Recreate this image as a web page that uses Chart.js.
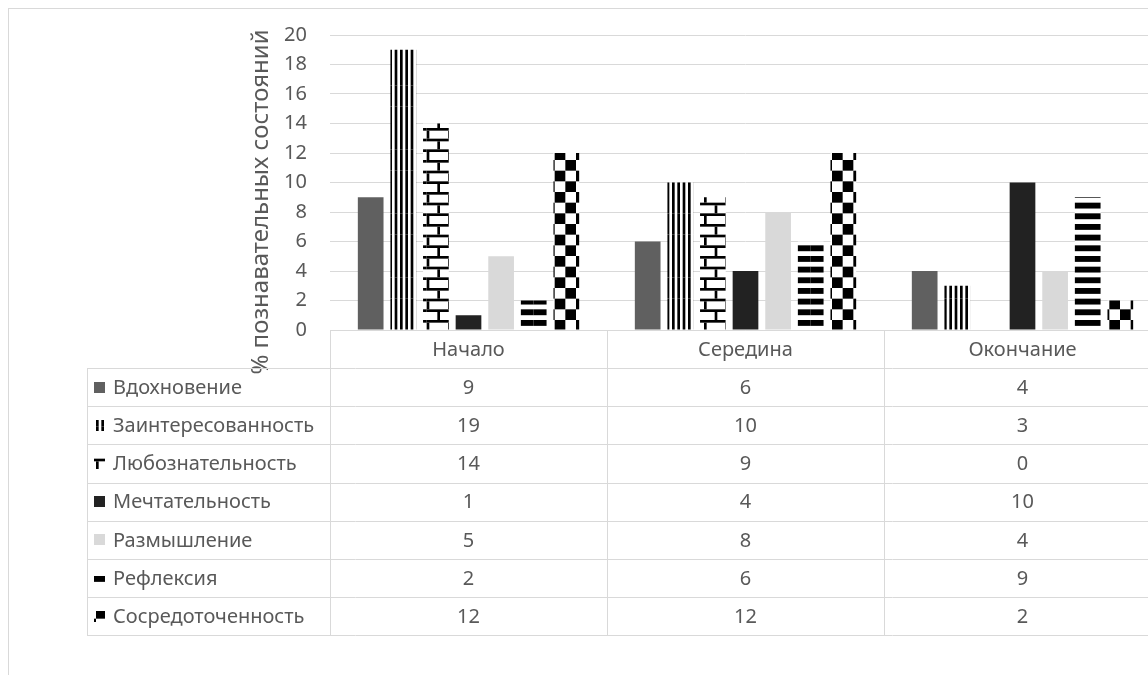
<!DOCTYPE html>
<html>
<head>
<meta charset="utf-8">
<title>Познавательные состояния</title>
<script src="https://cdn.jsdelivr.net/npm/chart.js@4.4.1/dist/chart.umd.min.js"></script>
<style>
	html, body { margin: 0; padding: 0; background: #fff; overflow: hidden; }
	#chart { position: absolute; left: 0; top: 0; }
</style>
</head>
<body>
<canvas id="chart" width="1200" height="700"></canvas>
<script>
var categories = ["Начало", "Середина", "Окончание"];

var inspiration = [9, 6, 4];
var interest = [19, 10, 3];
var curiosity = [14, 9, 0];
var dreaminess = [1, 4, 10];
var pondering = [5, 8, 4];
var reflection = [2, 6, 9];
var concentration = [12, 12, 2];

var seriesNames = [
	"Вдохновение",
	"Заинтересованность",
	"Любознательность",
	"Мечтательность",
	"Размышление",
	"Рефлексия",
	"Сосредоточенность",
];

var axisTitle = "% познавательных состояний";

var FONT = { family: "Noto Sans", size: 20 };
var TITLE_SIZE = 24;
var TEXT = "#595959";
var LINE = "#d9d9d9";

var canvas = document.getElementById("chart");
var ctx = canvas.getContext("2d");

// Excel's 8x8 fill patterns, scaled up the way the screenshot shows them
var UNIT = 8 / 3;

var makePattern = function (draw) {
	var tile = document.createElement("canvas");
	tile.width = tile.height = 64;
	var c = tile.getContext("2d");
	c.fillStyle = "#fff";
	c.fillRect(0, 0, 64, 64);
	c.scale(UNIT, UNIT);
	c.fillStyle = "#000";
	for (var ty = 0; ty < 3; ty++) {
		for (var tx = 0; tx < 3; tx++) {
			c.save();
			c.translate(tx * 8, ty * 8);
			draw(c);
			c.restore();
		}
	}
	return ctx.createPattern(tile, "repeat");
};

var fills = [
	"#606060",
	makePattern(function (c) {
		for (var i = 0; i < 8; i += 2) {
			c.fillRect(i, 0, 1, 8);
		}
	}),
	makePattern(function (c) {
		c.fillRect(0, 0, 8, 1);
		c.fillRect(0, 1, 1, 3);
		c.fillRect(0, 4, 8, 1);
		c.fillRect(4, 5, 1, 3);
	}),
	"#222222",
	"#d9d9d9",
	makePattern(function (c) {
		c.fillRect(0, 0, 8, 2.2);
		c.fillRect(0, 4, 8, 2.2);
	}),
	makePattern(function (c) {
		c.fillRect(0, 0, 4, 4);
		c.fillRect(4, 4, 4, 4);
	}),
];

var seriesValues = [inspiration, interest, curiosity, dreaminess, pondering, reflection, concentration];

var fontString = function (size) {
	return (size || FONT.size) + "px '" + FONT.family + "'";
};

var HEADER_H = 38;
var ROW_H = 38.2;
var TABLE_LEFT = 87;

var frame = {
	id: "frame",
	beforeDraw: function (chart) {
		var c = chart.ctx;
		c.save();
		c.strokeStyle = LINE;
		c.lineWidth = 1;
		c.strokeRect(8.5, 8.5, 1400, 900);
		c.restore();
	},
};

var yTitle = {
	id: "yTitle",
	afterDraw: function (chart) {
		var c = chart.ctx;
		c.save();
		c.translate(261, 202);
		c.rotate(-Math.PI / 2);
		c.font = fontString(TITLE_SIZE);
		c.fillStyle = TEXT;
		c.textAlign = "center";
		c.textBaseline = "middle";
		c.fillText(axisTitle, 0, 0);
		c.restore();
	},
};

var dataTable = {
	id: "dataTable",
	afterDraw: function (chart) {
		var c = chart.ctx;
		var x = chart.scales.x;
		var area = chart.chartArea;
		var half = (x.getPixelForValue(1) - x.getPixelForValue(0)) / 2;
		var top = area.bottom;
		var headBottom = top + HEADER_H;
		var bottom = headBottom + ROW_H * seriesNames.length;
		var right = x.getPixelForValue(categories.length - 1) + half;
		var snap = function (v) {
			return Math.round(v) + 0.5;
		};

		c.save();
		c.strokeStyle = LINE;
		c.lineWidth = 1;
		c.beginPath();
		c.moveTo(area.left, snap(top));
		c.lineTo(right, snap(top));
		for (var r = 0; r <= seriesNames.length; r++) {
			var y = snap(headBottom + r * ROW_H);
			c.moveTo(TABLE_LEFT, y);
			c.lineTo(right, y);
		}
		c.moveTo(snap(TABLE_LEFT), headBottom);
		c.lineTo(snap(TABLE_LEFT), bottom);
		for (var i = 0; i <= categories.length; i++) {
			var vx = snap(x.getPixelForValue(i) - half);
			c.moveTo(vx, top);
			c.lineTo(vx, bottom);
		}
		c.stroke();

		c.font = fontString();
		c.fillStyle = TEXT;
		c.textBaseline = "middle";
		c.textAlign = "center";
		categories.forEach(function (label, i) {
			c.fillText(label, x.getPixelForValue(i), top + HEADER_H / 2 + 1);
		});

		seriesNames.forEach(function (name, r) {
			var cy = headBottom + r * ROW_H + ROW_H / 2;

			c.fillStyle = fills[r];
			c.fillRect(94, Math.round(cy - 5.5), 11, 11);

			c.fillStyle = TEXT;
			c.textAlign = "left";
			c.fillText(name, 113, cy + 1);

			c.textAlign = "center";
			seriesValues[r].forEach(function (value, i) {
				c.fillText(String(value), x.getPixelForValue(i), cy + 1);
			});
		});
		c.restore();
	},
};

new Chart(canvas, {
	type: "bar",
	data: {
		labels: categories,
		datasets: seriesNames.map(function (name, i) {
			return {
				label: name,
				data: seriesValues[i],
				backgroundColor: fills[i],
				borderWidth: 0,
			};
		}),
	},
	options: {
		responsive: false,
		animation: false,
		layout: { padding: { left: 0, top: 24, right: 39, bottom: 370 } },
		datasets: { bar: { categoryPercentage: 0.824, barPercentage: 0.788 } },
		plugins: {
			legend: { display: false },
			tooltip: { enabled: false },
		},
		scales: {
			x: { display: false },
			y: {
				min: 0,
				max: 20,
				afterFit: function (scale) {
					scale.width = 330;
				},
				border: { display: false },
				grid: { color: LINE, drawTicks: false },
				ticks: { stepSize: 2, padding: 23, color: TEXT, font: FONT },
			},
		},
	},
	plugins: [frame, yTitle, dataTable],
});
</script>
</body>
</html>
